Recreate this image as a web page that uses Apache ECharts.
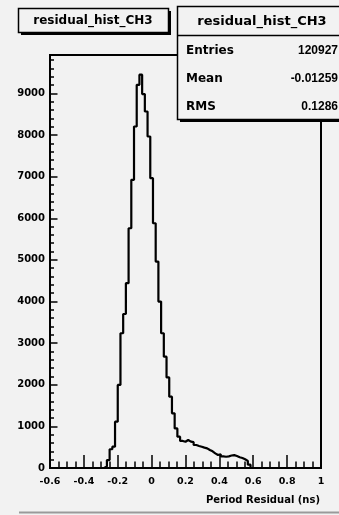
<!DOCTYPE html>
<html>
<head>
<meta charset="utf-8">
<script src="https://cdn.jsdelivr.net/npm/echarts@6/dist/echarts.min.js"></script>
<style>
  html, body { margin: 0; padding: 0; background: #f2f2f2; }
  #chart { width: 339px; height: 515px; }
</style>
</head>
<body>
<div id="chart"></div>
<script>
// Histogram residual_hist_CH3: 100 equal bins on [-0.6, 1.0]
const HIST_MIN = -0.6;
const HIST_MAX = 1.0;
const BIN_WIDTH = 0.016;
const N_BINS = 100;
// contents of bins 20 .. 74 (all other bins are empty)
const FIRST_FILLED_BIN = 20;
const binCounts = [
  40, 190, 450, 512, 1114, 1995, 3237, 3700, 4440, 5760,
  6923, 8205, 9207, 9450, 8983, 8565, 7965, 6963, 5880, 4960,
  3998, 3237, 2675, 2175, 1714, 1314, 950, 753, 650, 630,
  673, 633, 620, 553, 530, 512, 490, 473, 433, 400,
  352, 312, 330, 280, 270, 280, 300, 310, 290, 260,
  240, 210, 170, 80, 0
];

const histTitle = 'residual_hist_CH3';
const statsLabels = ['Entries', 'Mean', 'RMS'];
const statsValues = ['120927', '-0.01259', '0.1286'];
const xAxisTitle = 'Period Residual (ns)';

// full bin contents, then the step outline (one point per lower bin edge)
const contents = [];
for (let k = 0; k < N_BINS; k++) {
  const j = k - FIRST_FILLED_BIN;
  contents.push(j >= 0 && j < binCounts.length ? binCounts[j] : 0);
}
const outline = contents.map((c, k) => [+(HIST_MIN + k * BIN_WIDTH).toFixed(4), c]);
outline.push([HIST_MAX, contents[N_BINS - 1]]);

const yMax = Math.max(...contents) * 1.05;

const tickFont = { fontFamily: 'DejaVu Sans', fontWeight: 'bold', color: '#000' };

const chart = echarts.init(document.getElementById('chart'), null, { renderer: 'canvas' });
chart.setOption({
  backgroundColor: '#f2f2f2',
  animation: false,
  grid: {
    left: 50, right: 18, top: 55, bottom: 47,
    show: true, borderColor: '#000', borderWidth: 2, backgroundColor: 'transparent'
  },
  xAxis: {
    type: 'value', min: HIST_MIN, max: HIST_MAX, interval: 0.2,
    axisLine: { onZero: false, lineStyle: { color: '#000', width: 2 } },
    axisTick: { inside: true, length: 13, lineStyle: { color: '#000', width: 1.5 } },
    minorTick: { show: true, splitNumber: 4, length: 6.5, lineStyle: { color: '#000', width: 1.5 } },
    splitLine: { show: false },
    axisLabel: Object.assign({ margin: 9, fontSize: 9.5, formatter: v => String(+v.toFixed(2)) }, tickFont)
  },
  yAxis: {
    type: 'value', min: 0, max: yMax, interval: 1000,
    axisLine: { onZero: false, lineStyle: { color: '#000', width: 2 } },
    axisTick: { inside: true, length: 7.5, lineStyle: { color: '#000', width: 1.5 } },
    minorTick: { show: true, splitNumber: 5, length: 4, lineStyle: { color: '#000', width: 1.5 } },
    splitLine: { show: false },
    axisLabel: Object.assign({ margin: 5, fontSize: 10, showMaxLabel: false, formatter: v => String(Math.round(v)) }, tickFont)
  },
  series: [{
    type: 'line', step: 'end', data: outline, showSymbol: false, symbol: 'none',
    lineStyle: { color: '#000', width: 2.2 }, clip: true
  }],
  graphic: [
    // title box with shadow
    { type: 'rect', shape: { x: 21, y: 11, width: 150, height: 24 }, style: { fill: '#000' }, silent: true },
    { type: 'rect', shape: { x: 18.5, y: 8.5, width: 150, height: 24 }, style: { fill: '#f2f2f2', stroke: '#000', lineWidth: 1.5 }, silent: true },
    { type: 'text', x: 93, y: 20.5, style: { text: histTitle, font: 'bold 12px "DejaVu Sans"', fill: '#000', align: 'center', verticalAlign: 'middle' } },
    // statistics box
    { type: 'rect', shape: { x: 180, y: 9, width: 170, height: 113 }, style: { fill: '#000' }, silent: true },
    { type: 'rect', shape: { x: 177.5, y: 6.5, width: 170, height: 113 }, style: { fill: '#f2f2f2', stroke: '#000', lineWidth: 1.5 }, silent: true },
    { type: 'line', shape: { x1: 177.5, y1: 35.5, x2: 339, y2: 35.5 }, style: { stroke: '#000', lineWidth: 1.5 }, silent: true },
    { type: 'text', x: 262, y: 22, style: { text: histTitle, font: 'bold 13px "DejaVu Sans"', fill: '#000', align: 'center', verticalAlign: 'middle' } },
    ...statsLabels.map((t, i) => ({ type: 'text', x: 186, y: 51 + i * 28, style: { text: t, font: 'bold 12px "DejaVu Sans"', fill: '#000', align: 'left', verticalAlign: 'middle' } })),
    ...statsValues.map((t, i) => ({ type: 'text', x: 338, y: 51 + i * 28, style: { text: t, font: 'bold 12px "Liberation Sans"', fill: '#000', align: 'right', verticalAlign: 'middle' } })),
    // x axis title
    { type: 'text', x: 320, y: 500, style: { text: xAxisTitle, font: 'bold 10px "DejaVu Sans"', fill: '#000', align: 'right', verticalAlign: 'middle' } },
    // pad border
    { type: 'line', shape: { x1: 19, y1: 512.5, x2: 339, y2: 512.5 }, style: { stroke: '#9a9a9a', lineWidth: 2 }, silent: true }
  ]
});
</script>
</body>
</html>
